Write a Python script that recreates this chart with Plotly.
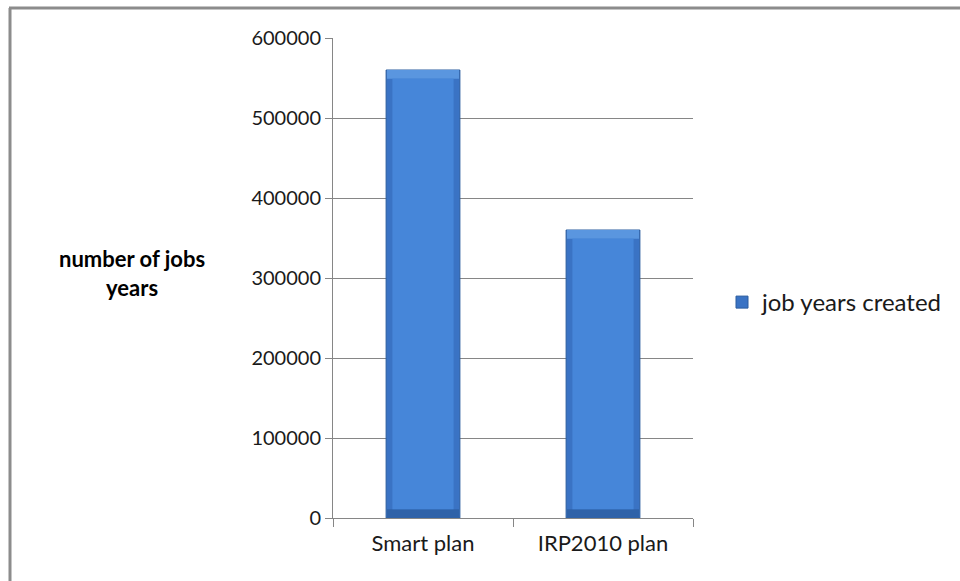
import plotly.graph_objects as go

# Job years created under each plan
plans = ["Smart plan", "IRP2010 plan"]
job_years = [560000, 360000]
series_name = "job years created"
y_ticks = [0, 100000, 200000, 300000, 400000, 500000, 600000]

# Plot area geometry in pixels (used to place frame lines in paper units)
W, H = 960, 581
L, R, T, B = 333, 693, 38, 518


def px_x(p):
    return (p - L) / (R - L)


def px_y(p):
    return (B - p) / (B - T)


bevel = 11000  # depth of the top/bottom bevel, in data units
bar_w = 0.41

fig = go.Figure()
# dark outer edge of each bar
fig.add_trace(go.Bar(x=plans, y=job_years, width=bar_w, name=series_name,
                     marker=dict(color="#3a73c4", line=dict(color="#2b5d9e", width=1)),
                     showlegend=True, hoverinfo="skip"))
# lighter top bevel
fig.add_trace(go.Bar(x=plans, y=[bevel] * len(job_years),
                     base=[v - bevel for v in job_years], width=bar_w - 0.01,
                     marker=dict(color="#5a96df", line=dict(width=0)),
                     showlegend=False, hoverinfo="skip"))
# darker bottom bevel
fig.add_trace(go.Bar(x=plans, y=[bevel] * len(job_years), width=bar_w - 0.01,
                     marker=dict(color="#2f62a8", line=dict(width=0)),
                     showlegend=False, hoverinfo="skip"))
# main face of the bar
fig.add_trace(go.Bar(x=plans, y=[v - 2 * bevel for v in job_years],
                     base=[bevel] * len(job_years), width=bar_w - 0.07,
                     marker=dict(color="#4686d9", line=dict(width=0)),
                     showlegend=False, hoverinfo="skip"))

font_family = "Lato, 'Open Sans', sans-serif"

fig.update_layout(
    width=W, height=H,
    margin=dict(l=L, r=W - R, t=T, b=H - B),
    paper_bgcolor="white", plot_bgcolor="white",
    barmode="overlay",
    font=dict(family=font_family, size=20, color="#1a1a1a"),
    showlegend=True,
    legend=dict(x=px_x(722), y=px_y(280), xanchor="left", yanchor="top",
                font=dict(size=24, color="#1a1a1a"), bgcolor="rgba(0,0,0,0)",
                itemwidth=30),
    xaxis=dict(type="category", showline=True, linecolor="#868686", linewidth=1,
               ticks="outside", tickson="boundaries", ticklen=8, tickcolor="#868686",
               ticklabelstandoff=6,
               showgrid=False, tickfont=dict(size=22, color="#1a1a1a")),
    yaxis=dict(range=[0, 600000], tickvals=y_ticks, ticktext=[str(v) for v in y_ticks],
               showline=True, linecolor="#868686", linewidth=1,
               ticks="outside", ticklen=7, tickcolor="#868686",
               showgrid=True, gridcolor="#868686", gridwidth=1,
               zeroline=False, tickfont=dict(size=20, color="#1a1a1a")),
    annotations=[dict(text="<b>number of jobs<br>years</b>", xref="paper", yref="paper",
                      x=px_x(132), y=px_y(273), xanchor="center", yanchor="middle",
                      showarrow=False, align="center",
                      font=dict(size=22, color="#000000"))],
    shapes=[
        dict(type="line", xref="paper", yref="paper", x0=px_x(9), x1=px_x(W),
             y0=px_y(8), y1=px_y(8), line=dict(color="#8c8c8c", width=3), layer="above"),
        dict(type="line", xref="paper", yref="paper", x0=px_x(10), x1=px_x(10),
             y0=px_y(8), y1=px_y(H), line=dict(color="#8c8c8c", width=3), layer="above"),
    ],
)

fig.write_html("out.html")
